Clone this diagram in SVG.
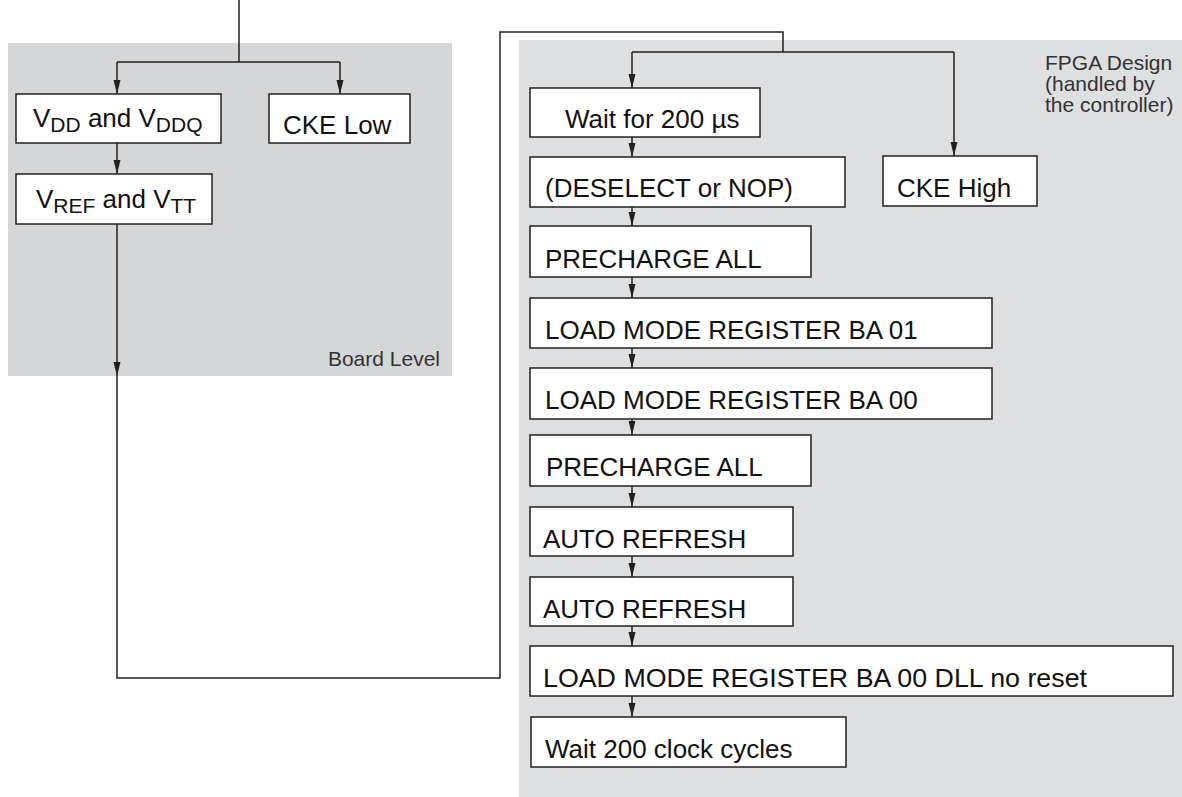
<svg xmlns="http://www.w3.org/2000/svg" width="1182" height="797" viewBox="0 0 1182 797">
<style>
.box{fill:#ffffff;stroke:#231f20;stroke-width:1.5}
.t{font-family:"Liberation Sans",Arial,sans-serif;font-size:26px;fill:#111}
.sub{font-size:21px}
.lbl{font-family:"Liberation Sans",Arial,sans-serif;font-size:21px;fill:#333}
.c{fill:none;stroke:#231f20;stroke-width:1.5}
.a{marker-end:url(#ah)}
</style>
<defs>
<marker id="ah" markerUnits="userSpaceOnUse" markerWidth="14" markerHeight="8" refX="14" refY="3.5" orient="auto">
<path d="M0,0 L14,3.5 L0,7 z" fill="#231f20"/>
</marker>
</defs>
<rect id="board-panel" x="8" y="43" width="444" height="333" fill="#d5d6d8"/>
<rect id="fpga-panel" x="519" y="40" width="663" height="757" fill="#dedfe1"/>
<text class="lbl" x="440" y="366" text-anchor="end">Board Level</text>
<text class="lbl" x="1045" y="70">FPGA Design</text>
<text class="lbl" x="1045" y="91">(handled by</text>
<text class="lbl" x="1045" y="112">the controller)</text>

<g id="n-vdd"><rect class="box" x="16" y="94" width="205" height="49"/><text class="t" x="33" y="127">V<tspan class="sub" dy="5">DD</tspan><tspan dy="-5"> and V</tspan><tspan class="sub" dy="5">DDQ</tspan></text></g>
<g id="n-ckelow"><rect class="box" x="269" y="94" width="141" height="49"/><text class="t" x="283" y="134">CKE Low</text></g>
<g id="n-vref"><rect class="box" x="16" y="174" width="196" height="50"/><text class="t" x="36" y="208">V<tspan class="sub" dy="5">REF</tspan><tspan dy="-5"> and V</tspan><tspan class="sub" dy="5">TT</tspan></text></g>

<g id="n-wait200us"><rect class="box" x="530" y="88" width="230" height="49"/><text class="t" x="565" y="128">Wait for 200 µs</text></g>
<g id="n-deselect"><rect class="box" x="530" y="157" width="315" height="50"/><text class="t" x="545" y="197">(DESELECT or NOP)</text></g>
<g id="n-ckehigh"><rect class="box" x="883" y="156" width="154" height="50"/><text class="t" x="897" y="197">CKE High</text></g>
<g id="n-precharge1"><rect class="box" x="530" y="226" width="281" height="51"/><text class="t" x="545" y="268">PRECHARGE ALL</text></g>
<g id="n-lmr01"><rect class="box" x="530" y="298" width="462" height="50"/><text class="t" x="545" y="339">LOAD MODE REGISTER BA 01</text></g>
<g id="n-lmr00"><rect class="box" x="530" y="368" width="462" height="51"/><text class="t" x="545" y="409">LOAD MODE REGISTER BA 00</text></g>
<g id="n-precharge2"><rect class="box" x="530" y="435" width="281" height="51"/><text class="t" x="546" y="476">PRECHARGE ALL</text></g>
<g id="n-autorefresh1"><rect class="box" x="530" y="507" width="263" height="49"/><text class="t" x="543" y="548">AUTO REFRESH</text></g>
<g id="n-autorefresh2"><rect class="box" x="530" y="577" width="263" height="49"/><text class="t" x="543" y="618">AUTO REFRESH</text></g>
<g id="n-lmrdll"><rect class="box" x="530" y="646" width="643" height="50"/><text class="t" x="543" y="687" textLength="544" lengthAdjust="spacingAndGlyphs">LOAD MODE REGISTER BA 00 DLL no reset</text></g>
<g id="n-wait200clk"><rect class="box" x="531" y="717" width="315" height="50"/><text class="t" x="545" y="758">Wait 200 clock cycles</text></g>

<g id="connectors">
<path class="c" d="M239,0 V62 M117,62 H340"/>
<path class="c a" d="M117,62 V94"/>
<path class="c a" d="M340,62 V94"/>
<path class="c a" d="M117,143 V174"/>
<path class="c a" d="M117,224 V376"/>
<path class="c" d="M117,376 V678 H500 V32 H783 V52 M632,52 H954"/>
<path class="c a" d="M632,52 V88"/>
<path class="c a" d="M954,52 V156"/>
<path class="c a" d="M632,137 V157"/>
<path class="c a" d="M632,207 V226"/>
<path class="c a" d="M632,277 V298"/>
<path class="c a" d="M632,348 V368"/>
<path class="c a" d="M632,419 V435"/>
<path class="c a" d="M632,486 V507"/>
<path class="c a" d="M632,556 V577"/>
<path class="c a" d="M632,626 V646"/>
<path class="c a" d="M632,696 V717"/>
</g>
</svg>
